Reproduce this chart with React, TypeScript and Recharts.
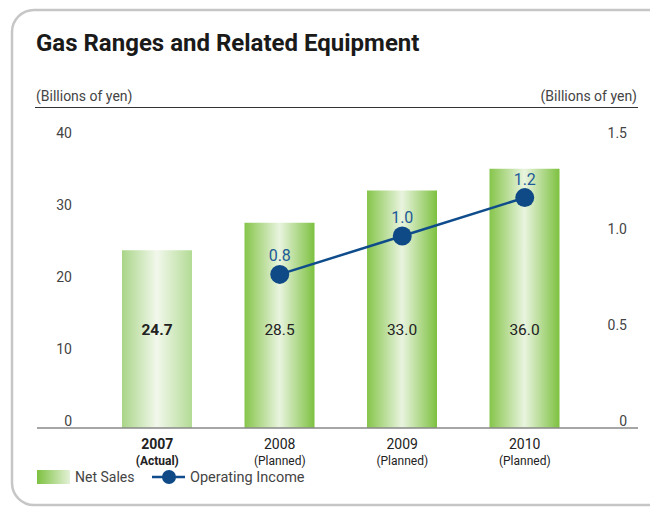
import { ComposedChart, Bar, Line, XAxis, YAxis, LabelList, Cell } from 'recharts';

const years = ['2007', '2008', '2009', '2010'];
const yearNotes = ['(Actual)', '(Planned)', '(Planned)', '(Planned)'];
const netSales = [24.7, 28.5, 33.0, 36.0];
const operatingIncome = [null, 0.8, 1.0, 1.2];
const leftTicks = [0, 10, 20, 30, 40];
const rightTicks = [0, 0.5, 1.0, 1.5];

const data = years.map((y, i) => ({
  year: y,
  note: yearNotes[i],
  sales: netSales[i],
  income: operatingIncome[i],
}));

const FONT = 'Roboto, "Liberation Sans", Arial, sans-serif';

const XTick = (props: any) => {
  const { x, y, payload, index } = props;
  const bold = index === 0;
  return (
    <g>
      <text x={x} y={y + 13} textAnchor='middle' fontFamily={FONT} fontSize={14} fontWeight={bold ? 700 : 400} fill='#222'>
        {payload.value}
      </text>
      <text x={x} y={y + 29} textAnchor='middle' fontFamily={FONT} fontSize={12} fontWeight={bold ? 700 : 400} fill='#222'>
        {yearNotes[index]}
      </text>
    </g>
  );
};

const LeftTick = (props: any) => (
  <text x={72} y={props.y - 2} textAnchor='end' fontFamily={FONT} fontSize={14} fill='#444'>
    {props.payload.value}
  </text>
);

const RightTick = (props: any) => (
  <text x={627} y={props.y - 2} textAnchor='end' fontFamily={FONT} fontSize={14} fill='#444'>
    {props.payload.value === 0 ? '0' : props.payload.value.toFixed(1)}
  </text>
);

const SalesLabel = (props: any) => {
  const { x, y, width, height, value, index } = props;
  return (
    <text x={x + width / 2} y={y + height - 93} textAnchor='middle' fontFamily={FONT} fontSize={15.5} fontWeight={index === 0 ? 700 : 400} fill='#222'>
      {value.toFixed(1)}
    </text>
  );
};

const IncomeLabel = (props: any) => {
  const { x, y, value } = props;
  if (value == null) return null;
  return (
    <text x={x} y={y - 13} textAnchor='middle' fontFamily={FONT} fontSize={16} fill='#1d5a98'>
      {value.toFixed(1)}
    </text>
  );
};

export default function App() {
  return (
    <div style={{ position: 'absolute', left: 0, top: 0, width: 650, height: 508, background: '#fff', overflow: 'hidden', fontFamily: FONT }}>
      <svg width={650} height={508} style={{ position: 'absolute', left: 0, top: 0 }}>
        <rect x={12} y={10} width={720} height={495} rx={22} fill='none' stroke='#c6c6c6' strokeWidth={2.5} />
        <line x1={35} y1={107.5} x2={638} y2={107.5} stroke='#333' strokeWidth={1} />
        <text x={36} y={51} fontFamily={FONT} fontSize={24} fontWeight={700} fill='#1a1a1a'>Gas Ranges and Related Equipment</text>
        <text x={36} y={101} fontFamily={FONT} fontSize={14} fill='#444'>(Billions of yen)</text>
        <text x={637} y={101} textAnchor='end' fontFamily={FONT} fontSize={14} fill='#444'>(Billions of yen)</text>
      </svg>
      <div style={{ position: 'absolute', left: 0, top: 0 }}>
        <ComposedChart width={650} height={508} data={data} margin={{ top: 140, right: 11, bottom: 40, left: 36 }}>
          <defs>
            <linearGradient id='barGrad' x1='0' y1='0' x2='1' y2='0'>
              <stop offset='0%' stopColor='#86c54b' />
              <stop offset='50%' stopColor='#e9f4df' />
              <stop offset='100%' stopColor='#7dc140' />
            </linearGradient>
            <linearGradient id='barGradPale' x1='0' y1='0' x2='1' y2='0'>
              <stop offset='0%' stopColor='#a9d588' />
              <stop offset='50%' stopColor='#f2f8ec' />
              <stop offset='100%' stopColor='#b3db95' />
            </linearGradient>
          </defs>
          <XAxis
            dataKey='year'
            tick={<XTick />}
            tickLine={false}
            axisLine={{ stroke: '#888', strokeWidth: 1.5 }}
            padding={{ left: 59, right: 52 }}
            height={40}
            interval={0}
          />
          <YAxis yAxisId='left' orientation='left' width={1} domain={[0, 40]} ticks={leftTicks} tick={<LeftTick />} axisLine={false} tickLine={false} />
          <YAxis yAxisId='right' orientation='right' width={1} domain={[0, 1.5]} ticks={rightTicks} tick={<RightTick />} axisLine={false} tickLine={false} />
          <Bar yAxisId='left' dataKey='sales' barSize={70} isAnimationActive={false}>
            {data.map((d, i) => (
              <Cell key={d.year} fill={i === 0 ? 'url(#barGradPale)' : 'url(#barGrad)'} />
            ))}
            <LabelList dataKey='sales' content={<SalesLabel />} />
          </Bar>
          <Line
            yAxisId='right'
            dataKey='income'
            stroke='#0f4c8b'
            strokeWidth={2.5}
            dot={{ r: 9.5, fill: '#0f4a87', stroke: '#0f4a87', strokeWidth: 0 }}
            isAnimationActive={false}
            connectNulls={false}
          >
            <LabelList dataKey='income' content={<IncomeLabel />} />
          </Line>
        </ComposedChart>
      </div>
      <svg width={650} height={508} style={{ position: 'absolute', left: 0, top: 0, pointerEvents: 'none' }}>
        <defs>
          <linearGradient id='legendGrad' x1='0' y1='0' x2='1' y2='0'>
            <stop offset='0%' stopColor='#7dc140' />
            <stop offset='100%' stopColor='#e4f1d8' />
          </linearGradient>
        </defs>
        <rect x={37} y={470} width={33} height={14} fill='url(#legendGrad)' />
        <text x={75} y={482} fontFamily={FONT} fontSize={14} fill='#444'>Net Sales</text>
        <line x1={152} y1={477} x2={185} y2={477} stroke='#0f4c8b' strokeWidth={2.5} />
        <circle cx={169} cy={477} r={7} fill='#0f4a87' />
        <text x={190} y={482} fontFamily={FONT} fontSize={14.5} fill='#444'>Operating Income</text>
      </svg>
    </div>
  );
}
